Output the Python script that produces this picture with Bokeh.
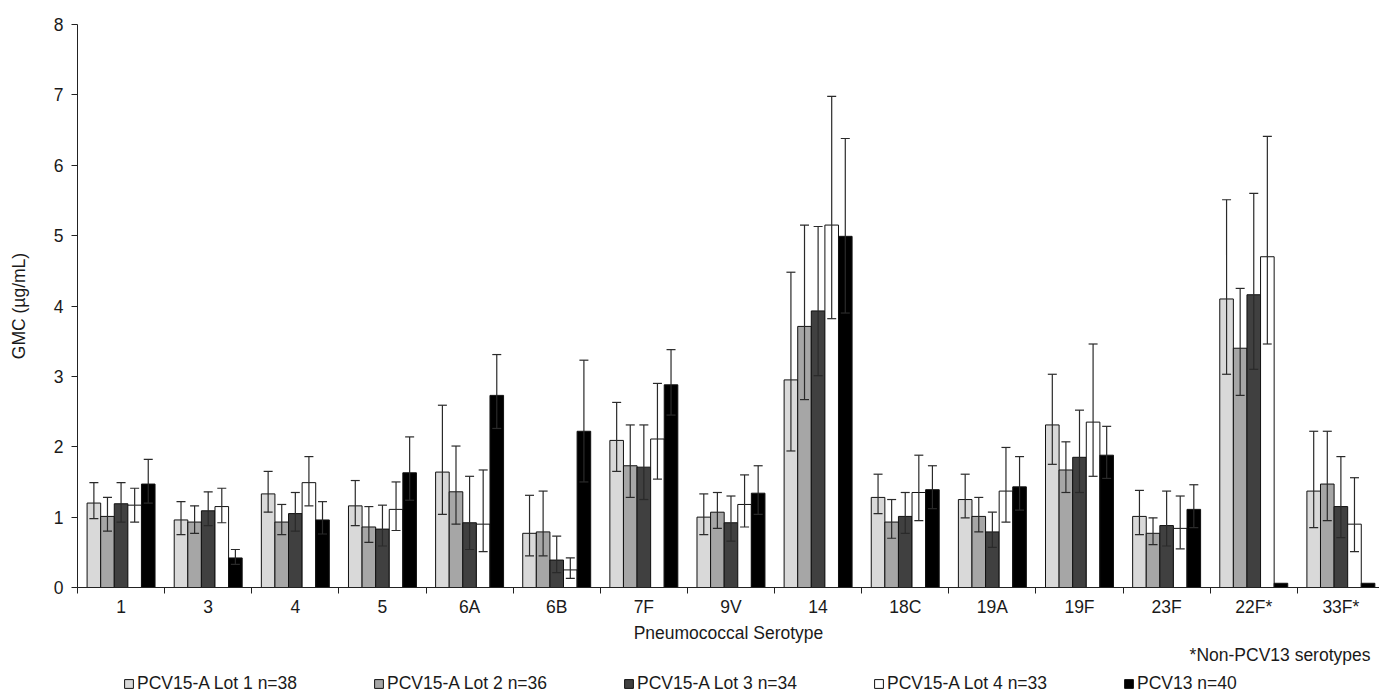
import math
from bokeh.plotting import figure
from bokeh.layouts import column
from bokeh.models import (ColumnDataSource, Range1d, FixedTicker, Whisker, TeeHead,
                          Legend, LegendItem, Label)
from bokeh.embed import file_html
from bokeh.resources import INLINE

nan = float("nan")

serotypes = ["1", "3", "4", "5", "6A", "6B", "7F", "9V", "14", "18C", "19A", "19F", "23F", "22F*", "33F*"]

series_names = ["PCV15-A Lot 1 n=38", "PCV15-A Lot 2 n=36", "PCV15-A Lot 3 n=34",
                "PCV15-A Lot 4 n=33", "PCV13 n=40"]
series_colors = ["#d9d9d9", "#a6a6a6", "#404040", "#ffffff", "#000000"]

lot1 = [1.20, 0.96, 1.33, 1.16, 1.64, 0.77, 2.09, 1.00, 2.95, 1.28, 1.25, 2.31, 1.01, 4.10, 1.37]
lot1_lo = [0.98, 0.75, 1.07, 0.88, 1.04, 0.45, 1.65, 0.75, 1.94, 1.05, 0.99, 1.75, 0.75, 3.03, 0.85]
lot1_hi = [1.49, 1.22, 1.65, 1.52, 2.59, 1.31, 2.63, 1.33, 4.48, 1.61, 1.61, 3.03, 1.38, 5.51, 2.22]

lot2 = [1.01, 0.93, 0.93, 0.86, 1.36, 0.79, 1.73, 1.07, 3.71, 0.93, 1.01, 1.67, 0.77, 3.40, 1.47]
lot2_lo = [0.80, 0.77, 0.75, 0.64, 0.90, 0.45, 1.28, 0.84, 2.67, 0.70, 0.79, 1.35, 0.61, 2.73, 0.95]
lot2_hi = [1.28, 1.16, 1.18, 1.15, 2.01, 1.37, 2.31, 1.35, 5.15, 1.25, 1.28, 2.07, 0.99, 4.25, 2.22]

lot3 = [1.19, 1.09, 1.05, 0.83, 0.92, 0.39, 1.71, 0.92, 3.93, 1.01, 0.79, 1.85, 0.88, 4.16, 1.15]
lot3_lo = [0.93, 0.88, 0.80, 0.59, 0.54, 0.21, 1.25, 0.66, 3.01, 0.77, 0.57, 1.35, 0.59, 3.10, 0.71]
lot3_hi = [1.49, 1.36, 1.35, 1.17, 1.58, 0.73, 2.31, 1.30, 5.13, 1.35, 1.07, 2.52, 1.37, 5.60, 1.86]

lot4 = [1.17, 1.15, 1.49, 1.11, 0.90, 0.25, 2.11, 1.18, 5.15, 1.35, 1.37, 2.35, 0.84, 4.70, 0.90]
lot4_lo = [0.93, 0.92, 1.16, 0.81, 0.51, 0.13, 1.54, 0.86, 3.82, 0.95, 0.93, 1.58, 0.55, 3.46, 0.51]
lot4_hi = [1.41, 1.41, 1.86, 1.50, 1.67, 0.42, 2.90, 1.60, 6.98, 1.88, 1.99, 3.46, 1.30, 6.41, 1.56]

pcv13 = [1.47, 0.42, 0.96, 1.63, 2.73, 2.22, 2.88, 1.34, 4.99, 1.39, 1.43, 1.88, 1.11, 0.06, 0.06]
pcv13_lo = [1.20, 0.33, 0.76, 1.24, 2.26, 1.50, 2.45, 1.04, 3.90, 1.12, 1.10, 1.55, 0.85, nan, nan]
pcv13_hi = [1.82, 0.54, 1.22, 2.14, 3.31, 3.23, 3.38, 1.73, 6.38, 1.73, 1.86, 2.29, 1.46, nan, nan]

y_ticks = [0, 1, 2, 3, 4, 5, 6, 7, 8]

values = [lot1, lot2, lot3, lot4, pcv13]
lows = [lot1_lo, lot2_lo, lot3_lo, lot4_lo, pcv13_lo]
highs = [lot1_hi, lot2_hi, lot3_hi, lot4_hi, pcv13_hi]

FONT = "Liberation Sans"
FS = "17.5px"
TXT = "#1a1a1a"

W, H = 1379, 694
LEFT, TOP = 77, 24
FRAME_H = 563
AXIS_PANEL = 59
MAIN_H = TOP + FRAME_H + AXIS_PANEL
LEG_H = H - MAIN_H
cat_px = 87.13
n_vis = (W - LEFT) / cat_px

p = figure(width=W, height=MAIN_H,
           output_backend="svg", toolbar_location=None,
           x_range=Range1d(0, n_vis), y_range=Range1d(0, 8),
           min_border_left=LEFT, min_border_right=0, min_border_top=TOP,
           min_border_bottom=AXIS_PANEL)
p.outline_line_color = None
p.xgrid.grid_line_color = None
p.ygrid.grid_line_color = None
p.background_fill_color = "white"
p.border_fill_color = "white"

# a strip below the chart that carries the footnote and the legend
pl = figure(width=W, height=LEG_H, output_backend="svg", toolbar_location=None,
            x_range=Range1d(0, W - LEFT), y_range=Range1d(0, LEG_H),
            x_axis_location=None, y_axis_location=None,
            min_border=0, min_border_left=LEFT, min_border_right=0,
            min_border_top=0, min_border_bottom=0)
pl.outline_line_color = None
pl.xgrid.grid_line_color = None
pl.ygrid.grid_line_color = None
pl.background_fill_color = "white"
pl.border_fill_color = "white"

bw = 0.156
legend_items = []
for k in range(5):
    xs = [i + 0.5 + (k - 2) * bw for i in range(len(serotypes))]
    src = ColumnDataSource(dict(x=xs, top=values[k], lo=lows[k], hi=highs[k]))
    p.vbar(x="x", top="top", width=bw, bottom=0, source=src,
           fill_color=series_colors[k], line_color="#111111", line_width=1)
    wk = Whisker(base="x", upper="hi", lower="lo", source=src,
                 line_color="#2a2a2a", line_width=1.2, level="overlay",
                 upper_head=TeeHead(size=9, line_color="#2a2a2a", line_width=1.2),
                 lower_head=TeeHead(size=9, line_color="#2a2a2a", line_width=1.2))
    p.add_layout(wk)
    # same series drawn (hidden) in the strip so that its legend shows the swatch
    rl = pl.vbar(x="x", top="top", width=bw, bottom=0, source=src,
                 fill_color=series_colors[k], line_color="#111111", line_width=1,
                 visible=False)
    legend_items.append(LegendItem(label=series_names[k], renderers=[rl]))

# x axis: labels at category centres, tick marks at category boundaries
xa = p.xaxis[0]
xa.ticker = FixedTicker(ticks=[i + 0.5 for i in range(len(serotypes))],
                        minor_ticks=list(range(len(serotypes) + 1)))
xa.major_label_overrides = {i + 0.5: s for i, s in enumerate(serotypes)}
xa.major_tick_out = 0
xa.major_tick_in = 0
xa.minor_tick_out = 6
xa.minor_tick_in = 0
xa.minor_tick_line_color = "#222222"
xa.axis_line_color = "#222222"
xa.major_label_text_font = FONT
xa.major_label_text_font_size = FS
xa.major_label_text_color = TXT
xa.major_label_standoff = 3
xa.axis_label = "Pneumococcal Serotype"
xa.axis_label_text_font = FONT
xa.axis_label_text_font_size = FS
xa.axis_label_text_font_style = "normal"
xa.axis_label_text_color = TXT
xa.axis_label_standoff = 3

ya = p.yaxis[0]
ya.ticker = FixedTicker(ticks=y_ticks, minor_ticks=[])
ya.major_tick_out = 6
ya.major_tick_in = 0
ya.minor_tick_out = 0
ya.minor_tick_in = 0
ya.major_tick_line_color = "#222222"
ya.axis_line_color = "#222222"
ya.major_label_text_font = FONT
ya.major_label_text_font_size = FS
ya.major_label_text_color = TXT
ya.major_label_standoff = 8
ya.axis_label = "GMC (µg/mL)"
ya.axis_label_text_font = FONT
ya.axis_label_text_font_size = FS
ya.axis_label_text_font_style = "normal"
ya.axis_label_text_color = TXT
ya.axis_label_standoff = 22

note = Label(x=W - LEFT - 9, y=LEG_H - 8, x_units="screen", y_units="screen",
             text="*Non-PCV13 serotypes", text_align="right", text_baseline="middle",
             text_font=FONT, text_font_size=FS, text_color=TXT)
pl.add_layout(note)

legend = Legend(items=legend_items, orientation="horizontal",
                location=(123 - LEFT, 0), glyph_width=11, glyph_height=11,
                label_standoff=3, spacing=40, label_width=196, padding=0, margin=0,
                label_height=18,
                label_text_font=FONT, label_text_font_size=FS, label_text_color=TXT,
                border_line_color=None, background_fill_alpha=0)
pl.add_layout(legend)

layout = column(p, pl, spacing=0)
open("out.html", "w").write(file_html(layout, INLINE))
